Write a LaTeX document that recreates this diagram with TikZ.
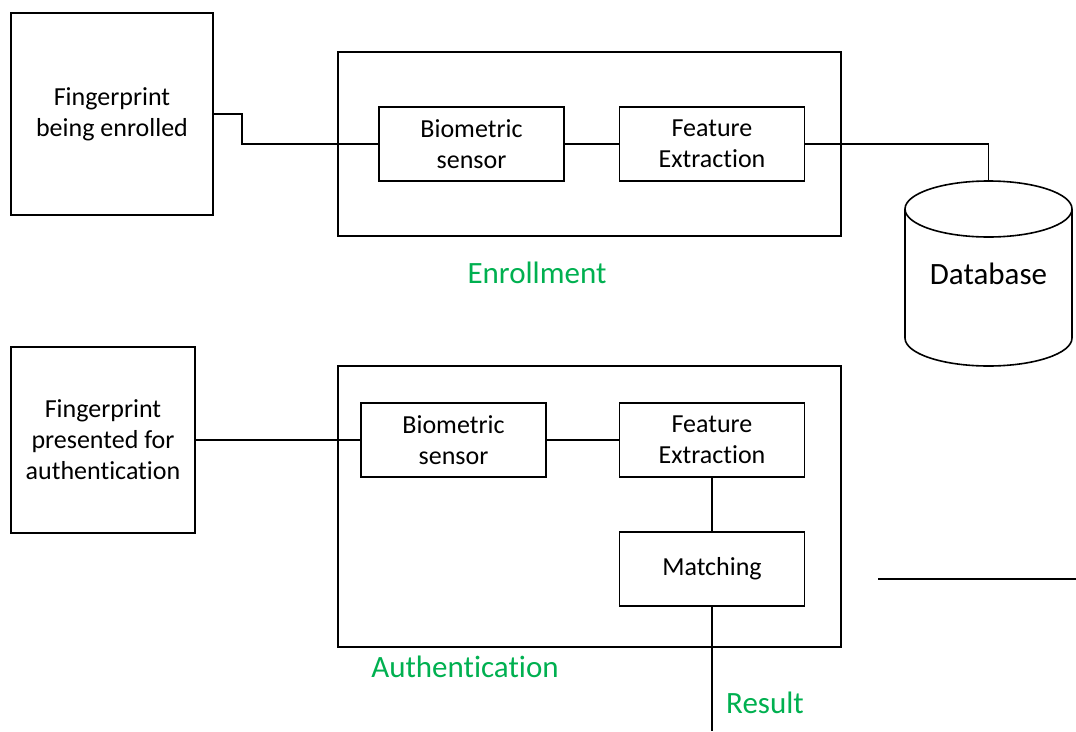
\documentclass[tikz,border=0pt]{standalone}
\usepackage{fontspec}
\setmainfont{Carlito}[Ligatures=NoCommon]
\definecolor{labelgreen}{RGB}{0,176,80}
\begin{document}
\begin{tikzpicture}[x=1pt,y=-1pt,line width=1.6pt,
  every node/.style={font=\fontsize{26}{31}\selectfont},
  blk/.style={draw,align=center,inner sep=0pt},
  lbl/.style={text=labelgreen,font=\fontsize{31}{37}\selectfont}]
\useasboundingbox (0,0) rectangle (1076,731);
% enrollment
\node[blk,minimum width=202,minimum height=202] (fp1)at(112,114){Fingerprint\\being enrolled};
\node[blk,minimum width=503,minimum height=184] (enr)at(589.5,144){};
\node[blk,minimum width=185,minimum height=74] (bs1)at(471.5,144){Biometric\\sensor};
\node[blk,minimum width=185,minimum height=74] (fe1)at(712,144){Feature\\Extraction};
\node[lbl] (enrl)at(537,273){Enrollment};
% database
\draw (905,209) -- (905,338) arc[start angle=180,end angle=0,x radius=83.5,y radius=28] -- (1072,209);
\draw (988.5,209) ellipse[x radius=83.5,y radius=28];
\coordinate (dbtop)at(988.5,181);
\node[font=\fontsize{31}{37}\selectfont] (db)at(988.5,274){Database};
\draw (fp1.east) -- ++(28,0) |- (bs1.west);
\draw (bs1.east) -- (fe1.west);
\draw (fe1.east) -| (dbtop);
% authentication
\node[blk,minimum width=184,minimum height=186] (fp2)at(103,440){Fingerprint\\presented for\\authentication};
\node[blk,minimum width=503,minimum height=281] (aut)at(589.5,506.5){};
\node[blk,minimum width=185,minimum height=74] (bs2)at(453.5,440){Biometric\\sensor};
\node[blk,minimum width=185,minimum height=74] (fe2)at(712,440){Feature\\Extraction};
\node[blk,minimum width=185,minimum height=74] (mat)at(712,569){Matching};
\node[lbl] (autl)at(465,667){Authentication};
\node[lbl] (res)at(765,703){Result};
\coordinate (resend)at(712,731);
\draw (fp2.east) -- (bs2.west);
\draw (bs2.east) -- (fe2.west);
\draw (fe2.south) -- (mat.north);
\draw (mat.south) -- (resend);
% loose line
\coordinate (ln1)at(878,579);
\coordinate (ln2)at(1076,579);
\draw (ln1) -- (ln2);
\end{tikzpicture}
\end{document}
